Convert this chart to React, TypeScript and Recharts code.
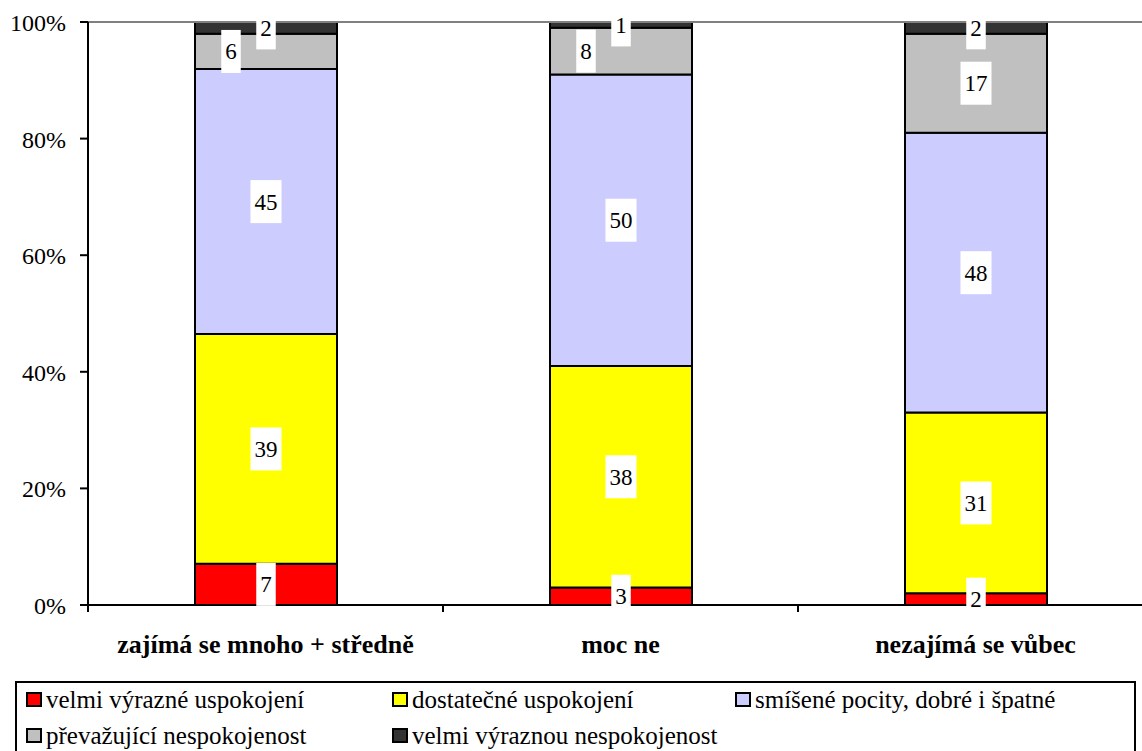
import { BarChart, Bar, XAxis, YAxis, ReferenceLine, Legend, LabelList } from 'recharts';

const FONT = '"Liberation Serif", "Times New Roman", serif';

const categories = ['zajímá se mnoho + středně', 'moc ne', 'nezajímá se vůbec'];
const velmiVyrazne = [7, 3, 2];
const dostatecne = [39, 38, 31];
const smisene = [45, 50, 48];
const prevazujici = [6, 8, 17];
const velmiNespokojenost = [2, 1, 2];
const yTicks = [0, 0.2, 0.4, 0.6, 0.8, 1];

const series = [
  { key: 'a', name: 'velmi výrazné uspokojení', values: velmiVyrazne, color: '#FF0000' },
  { key: 'b', name: 'dostatečné uspokojení', values: dostatecne, color: '#FFFF00' },
  { key: 'c', name: 'smíšené pocity, dobré i špatné', values: smisene, color: '#CCCCFF' },
  { key: 'd', name: 'převažující nespokojenost', values: prevazujici, color: '#C0C0C0' },
  { key: 'e', name: 'velmi výraznou nespokojenost', values: velmiNespokojenost, color: '#333333' },
];

const data = categories.map((cat, i) => {
  const row: any = { cat };
  series.forEach((s) => { row[s.key] = s.values[i]; });
  return row;
});

const CHART_W = 1160;
const PLOT_W = CHART_W - 88 - 7;

// white box label, shifted left for thin grey segments (like the original)
const makeLabel = (seriesKey: string) => (props: any) => {
  const vb = props.viewBox || props;
  const x = Number(vb.x);
  const w = Number(vb.width);
  const y = Math.min(Number(vb.y), Number(vb.y) + Number(vb.height));
  const h = Math.abs(Number(vb.height));
  const txt = String(props.value);
  let cx = x + w / 2;
  if (seriesKey === 'd' && h < 60) cx -= 35;
  const cy = y + h / 2;
  const bw = txt.length * 11.5 + 8;
  return (
    <g>
      <rect x={cx - bw / 2} y={cy - 21.5} width={bw} height={43} fill="#fff" />
      <text x={cx} y={cy + 8} textAnchor="middle" fontFamily="Liberation Serif" fontSize={23} fill="#000">{txt}</text>
    </g>
  );
};

function CategoryTick(props: any) {
  const { x, y, payload } = props;
  const half = payload && payload.offset ? payload.offset : PLOT_W / categories.length / 2;
  return (
    <g>
      <line x1={x - half} y1={y} x2={x - half} y2={y + 7} stroke="#000" strokeWidth={2} />
      <text x={x} y={y + 48} textAnchor="middle" fontFamily="Liberation Serif" fontWeight="bold" fontSize={26} fill="#000">
        {payload.value}
      </text>
    </g>
  );
}

function YTick(props: any) {
  const { x, y, payload } = props;
  return (
    <text x={x} y={y + 9} textAnchor="end" fontFamily="Liberation Serif" fontSize={24} fill="#000">
      {`${Math.round(payload.value * 100)}%`}
    </text>
  );
}

function LegendBox() {
  return (
    <div style={{
      border: '2px solid #000', boxSizing: 'border-box', width: 1121, height: 90,
      padding: '4px 0 0 9px', fontFamily: FONT, fontSize: 25, lineHeight: '25px', color: '#000',
      display: 'grid', gridTemplateColumns: '366px 343px auto', justifyContent: 'start',
      rowGap: 11, alignContent: 'start', background: '#fff',
    }}>
      {series.map((s) => (
        <div key={s.key} style={{ display: 'flex', alignItems: 'center', whiteSpace: 'nowrap' }}>
          <span style={{
            display: 'inline-block', width: 12, height: 11, border: '2px solid #000',
            background: s.color, marginRight: 4,
          }} />
          <span>{s.name}</span>
        </div>
      ))}
    </div>
  );
}

export default function App() {
  return (
    <div style={{ position: 'absolute', left: 0, top: 0, width: 1142, height: 751, overflow: 'hidden', background: '#fff' }}>
      <BarChart
        width={CHART_W}
        height={751}
        data={data}
        stackOffset="expand"
        margin={{ top: 22, right: 7, left: 0, bottom: 86 }}
      >
        <ReferenceLine y={1} stroke="#808080" strokeWidth={2} />
        <XAxis
          dataKey="cat"
          axisLine={{ stroke: '#000', strokeWidth: 2 }}
          tickLine={false}
          tickSize={0}
          tickMargin={0}
          height={60}
          interval={0}
          tick={<CategoryTick />}
        />
        <YAxis
          width={88}
          domain={[0, 1]}
          ticks={yTicks}
          interval={0}
          axisLine={{ stroke: '#000', strokeWidth: 2 }}
          tickLine={{ stroke: '#000', strokeWidth: 2 }}
          tickSize={8}
          tickMargin={14}
          tick={<YTick />}
        />
        {series.map((s) => (
          <Bar
            key={s.key}
            dataKey={s.key}
            name={s.name}
            stackId="stack"
            fill={s.color}
            stroke="#000"
            strokeWidth={2}
            barSize={142}
            isAnimationActive={false}
          >
            <LabelList dataKey={s.key} content={makeLabel(s.key)} />
          </Bar>
        ))}
        <Legend
          layout="horizontal"
          verticalAlign="middle"
          align="center"
          wrapperStyle={{ left: 15, top: 681, width: 1121 }}
          content={<LegendBox />}
        />
      </BarChart>
    </div>
  );
}
